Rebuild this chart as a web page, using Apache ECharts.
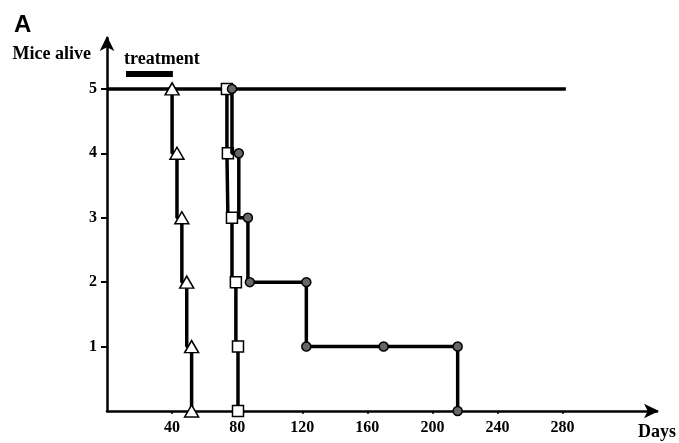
<!DOCTYPE html>
<html>
<head>
<meta charset="utf-8">
<script src="https://cdn.jsdelivr.net/npm/echarts@6/dist/echarts.min.js"></script>
<style>html,body{margin:0;padding:0;background:#fff;}#c{width:679px;height:443px;}</style>
</head>
<body>
<div id="c"></div>
<script>
// Data
var xTickLabels = [40, 80, 120, 160, 200, 240, 280];
var yTickLabels = [1, 2, 3, 4, 5];
var survivorDays = [0, 282];
var survivorAlive = [5, 5];
var triangleDays = [40, 43, 46, 49, 52, 52];
var triangleAlive = [5, 4, 3, 2, 1, 0];
var squareDays = [73.7, 74.3, 76.8, 79.2, 80.5, 80.5];
var squareAlive = [5, 4, 3, 2, 1, 0];
var circleDays = [76.8, 81, 86.6, 87.8, 122.5, 122.5, 170, 215.5, 215.5];
var circleAlive = [5, 4, 3, 2, 2, 1, 1, 1, 0];
var treatmentDays = [11.7, 40.5];
var treatmentLevel = [5.23, 5.23];

function zip(a, b) { return a.map(function (v, i) { return [v, b[i]]; }); }

var serif = 'Liberation Serif';
var chart = echarts.init(document.getElementById('c'));
chart.setOption({
  animation: false,
  backgroundColor: '#fff',
  grid: { left: 107, right: 21, top: 38, bottom: 32, containLabel: false },
  xAxis: {
    type: 'value', min: 0, max: 338, interval: 40,
    splitLine: { show: false },
    axisLine: { lineStyle: { color: '#000', width: 2.5 }, symbol: ['none', 'arrow'], symbolSize: [11, 15], symbolOffset: [0, 2] },
    axisTick: { show: true, length: 3, customValues: xTickLabels, lineStyle: { color: '#000', width: 1.5 } },
    axisLabel: {
      margin: 9, color: '#000', fontFamily: serif, fontWeight: 'bold', fontSize: 16,
      customValues: xTickLabels
    },
    name: 'Days', nameLocation: 'end', nameGap: 0,
    nameTextStyle: { color: '#000', fontFamily: serif, fontWeight: 'bold', fontSize: 18, align: 'center', verticalAlign: 'top', padding: [12, 0, 0, 0] }
  },
  yAxis: {
    type: 'value', min: 0, max: 5.79, interval: 1,
    splitLine: { show: false },
    axisLine: { lineStyle: { color: '#000', width: 2.5 }, symbol: ['none', 'arrow'], symbolSize: [11, 15], symbolOffset: [0, 2] },
    axisTick: { show: true, length: 6, customValues: yTickLabels, lineStyle: { color: '#000', width: 2 } },
    axisLabel: {
      margin: 10, color: '#000', fontFamily: serif, fontWeight: 'bold', fontSize: 16,
      customValues: yTickLabels
    },
    name: 'Mice alive', nameLocation: 'end', nameGap: -16,
    nameTextStyle: { color: '#000', fontFamily: serif, fontWeight: 'bold', fontSize: 18, align: 'right', verticalAlign: 'middle', padding: [0, 16, 0, 0] }
  },
  graphic: [
    { type: 'text', left: 14, top: 13, style: { text: 'A', font: 'bold 24px "Liberation Sans"', fill: '#000' } },
    { type: 'text', left: 124, top: 50, style: { text: 'treatment', font: 'bold 18px "Liberation Serif"', fill: '#000' } }
  ],
  series: [
    {
      type: 'line', data: zip(treatmentDays, treatmentLevel), showSymbol: false, symbol: 'none',
      lineStyle: { color: '#000', width: 6, cap: 'butt' }, z: 2
    },
    {
      type: 'line', data: zip(survivorDays, survivorAlive), showSymbol: false, symbol: 'none',
      lineStyle: { color: '#000', width: 3.5 }, z: 2
    },
    {
      type: 'line', step: 'start', data: zip(triangleDays, triangleAlive),
      symbol: 'triangle', symbolSize: [14, 12], showAllSymbol: true,
      itemStyle: { color: '#fff', borderColor: '#000', borderWidth: 1.5 },
      lineStyle: { color: '#000', width: 3.5 }, z: 3
    },
    {
      type: 'line', step: 'start', data: zip(squareDays, squareAlive),
      symbol: 'rect', symbolSize: 11, showAllSymbol: true,
      itemStyle: { color: '#fff', borderColor: '#000', borderWidth: 1.5 },
      lineStyle: { color: '#000', width: 3.5 }, z: 4
    },
    {
      type: 'line', step: 'start', data: zip(circleDays, circleAlive),
      symbol: 'circle', symbolSize: 9, showAllSymbol: true,
      itemStyle: { color: '#666', borderColor: '#000', borderWidth: 1.5 },
      lineStyle: { color: '#000', width: 3.5 }, z: 5
    }
  ]
});
</script>
</body>
</html>
